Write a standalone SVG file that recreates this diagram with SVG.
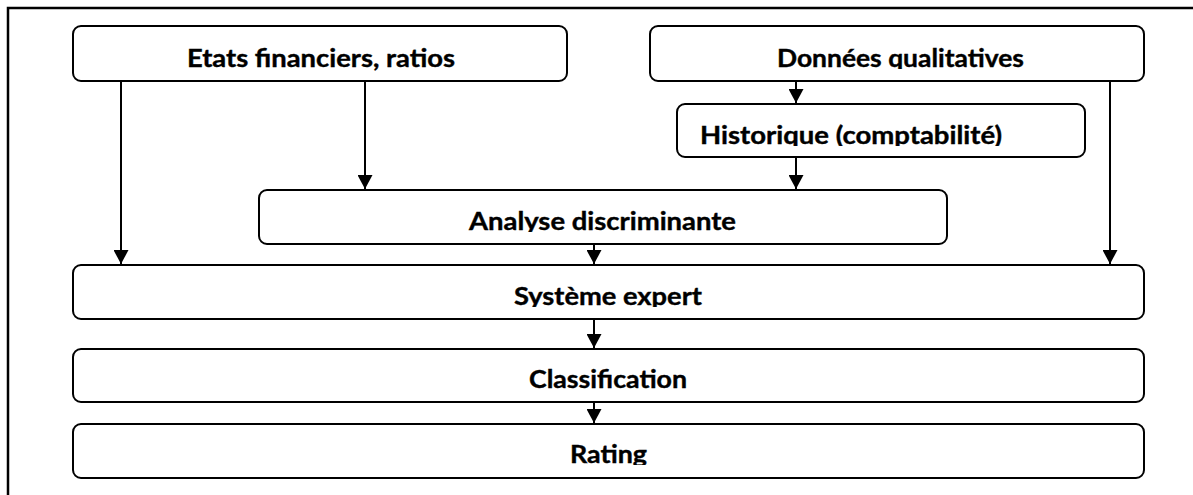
<svg xmlns="http://www.w3.org/2000/svg" width="1193" height="495" viewBox="0 0 1193 495">
<style>
.box{fill:#fff;stroke:#000;stroke-width:2}
.lbl{font-family:Lato,"Open Sans","Liberation Sans",sans-serif;font-weight:bold;font-size:25px;fill:#000;stroke:#000;stroke-width:0.4}
.edge{stroke:#000;stroke-width:2;fill:none;marker-end:url(#ah)}
.frame{stroke:#000;stroke-width:2.5;fill:none}
</style>
<defs>
<marker id="ah" markerUnits="userSpaceOnUse" markerWidth="16" markerHeight="15" refX="14" refY="7.5" orient="auto">
<path d="M0,0 L14,7.5 L0,15 Z" fill="#000"/>
</marker>
<clipPath id="c1"><rect x="0" y="0" width="1193" height="69"/></clipPath>
<clipPath id="c2"><rect x="0" y="0" width="1193" height="146"/></clipPath>
<clipPath id="c3"><rect x="0" y="0" width="1193" height="232"/></clipPath>
<clipPath id="c4"><rect x="0" y="0" width="1193" height="307"/></clipPath>
<clipPath id="c5"><rect x="0" y="0" width="1193" height="465"/></clipPath>
</defs>
<rect width="1193" height="495" fill="#fff"/>
<path class="frame" d="M8,495 V8 H1193"/>

<g id="etats">
<rect class="box" x="73" y="26" width="494" height="55" rx="8"/>
<text class="lbl" x="187" y="67" textLength="268" lengthAdjust="spacingAndGlyphs">Etats financiers, ratios</text>
</g>
<g id="donnees">
<rect class="box" x="650" y="26" width="494" height="55" rx="8"/>
<text class="lbl" x="777" y="67" textLength="247" lengthAdjust="spacingAndGlyphs" clip-path="url(#c1)">Données qualitatives</text>
</g>
<g id="historique">
<rect class="box" x="677" y="104" width="408" height="53" rx="8"/>
<text class="lbl" x="700" y="144" textLength="302" lengthAdjust="spacingAndGlyphs" clip-path="url(#c2)">Historique (comptabilité)</text>
</g>
<g id="analyse">
<rect class="box" x="259" y="190" width="688" height="54" rx="8"/>
<text class="lbl" x="469" y="230" textLength="267" lengthAdjust="spacingAndGlyphs" clip-path="url(#c3)">Analyse discriminante</text>
</g>
<g id="systeme">
<rect class="box" x="73" y="265" width="1071" height="54" rx="8"/>
<text class="lbl" x="514" y="305" textLength="188" lengthAdjust="spacingAndGlyphs" clip-path="url(#c4)">Système expert</text>
</g>
<g id="classification">
<rect class="box" x="73" y="349" width="1071" height="53" rx="8"/>
<text class="lbl" x="529" y="388" textLength="158" lengthAdjust="spacingAndGlyphs">Classification</text>
</g>
<g id="rating">
<rect class="box" x="73" y="424" width="1071" height="54" rx="8"/>
<text class="lbl" x="570" y="463" textLength="77" lengthAdjust="spacingAndGlyphs" clip-path="url(#c5)">Rating</text>
</g>

<g id="connectors">
<line class="edge" x1="121" y1="81" x2="121" y2="264"/>
<line class="edge" x1="365" y1="81" x2="365" y2="189"/>
<line class="edge" x1="796" y1="81" x2="796" y2="103"/>
<line class="edge" x1="796" y1="157" x2="796" y2="189"/>
<line class="edge" x1="1110" y1="81" x2="1110" y2="264"/>
<line class="edge" x1="594" y1="244" x2="594" y2="264"/>
<line class="edge" x1="594" y1="319" x2="594" y2="348"/>
<line class="edge" x1="594" y1="402" x2="594" y2="423"/>
</g>
</svg>
